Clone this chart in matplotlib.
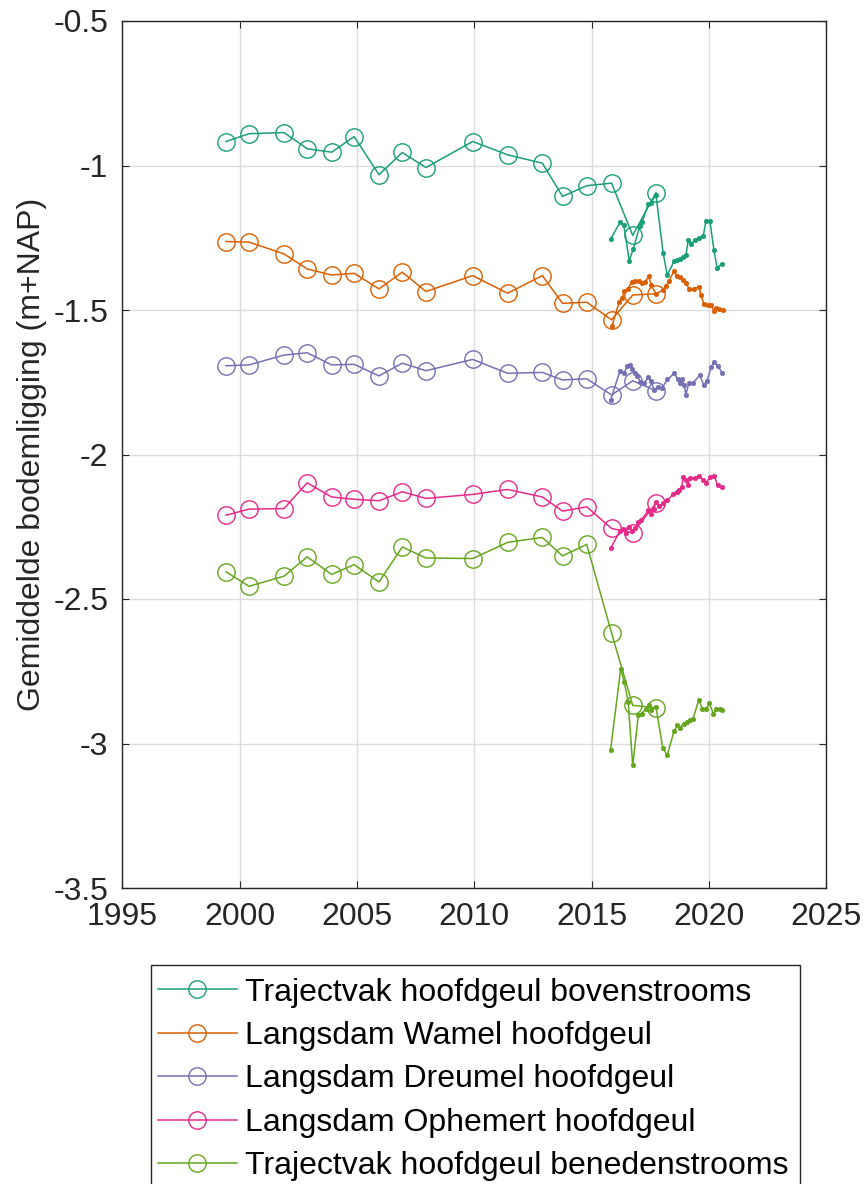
import matplotlib
matplotlib.use("Agg")
import matplotlib.pyplot as plt
from matplotlib.ticker import FuncFormatter
from matplotlib.patches import Rectangle

plt.rcParams['font.family'] = ['Liberation Sans', 'DejaVu Sans']

# ---------------- data ----------------
labels = [
    "Trajectvak hoofdgeul bovenstrooms",
    "Langsdam Wamel hoofdgeul",
    "Langsdam Dreumel hoofdgeul",
    "Langsdam Ophemert hoofdgeul",
    "Trajectvak hoofdgeul benedenstrooms",
]
colors = ["#1b9e77", "#d95f02", "#7570b3", "#e7298a", "#66a61e"]

# survey years (circle series)
years_survey = [1999.42, 2000.40, 2001.89, 2002.88, 2003.92, 2004.88, 2005.94,
                2006.93, 2007.94, 2009.93, 2011.42, 2012.90, 2013.76, 2014.79,
                2015.85, 2016.75, 2017.74]

bov_survey = [-0.917, -0.890, -0.886, -0.942, -0.954, -0.900, -1.032, -0.955,
              -1.007, -0.917, -0.963, -0.992, -1.107, -1.070, -1.061, -1.242, -1.094]
wam_survey = [-1.263, -1.265, -1.306, -1.358, -1.379, -1.373, -1.427, -1.369,
              -1.436, -1.381, -1.442, -1.381, -1.477, -1.473, -1.534, -1.448, -1.444]
dre_survey = [-1.693, -1.690, -1.656, -1.648, -1.690, -1.688, -1.728, -1.684,
              -1.710, -1.671, -1.719, -1.716, -1.742, -1.738, -1.794, -1.745, -1.779]
oph_survey = [-2.210, -2.189, -2.187, -2.098, -2.147, -2.155, -2.160, -2.129,
              -2.152, -2.138, -2.121, -2.147, -2.196, -2.181, -2.256, -2.271, -2.169]
ben_survey = [-2.406, -2.456, -2.421, -2.354, -2.415, -2.381, -2.441, -2.320,
              -2.358, -2.360, -2.304, -2.287, -2.351, -2.311, -2.618, -2.868, -2.876]

# frequent measurements (small dots)
bov_t = [2015.81, 2016.21, 2016.37, 2016.60, 2016.77, 2017.05, 2017.15, 2017.41,
         2017.51, 2017.74, 2018.05, 2018.22, 2018.51, 2018.62, 2018.76, 2018.90,
         2019.02, 2019.12, 2019.23, 2019.40, 2019.57, 2019.76, 2019.87, 2020.04,
         2020.21, 2020.35, 2020.54]
bov_v = [-1.255, -1.196, -1.205, -1.329, -1.290, -1.210, -1.196, -1.134,
         -1.130, -1.101, -1.304, -1.379, -1.332, -1.327, -1.322, -1.315,
         -1.310, -1.257, -1.271, -1.257, -1.252, -1.243, -1.192, -1.192,
         -1.292, -1.356, -1.340]

wam_t = [2015.87, 2016.18, 2016.30, 2016.40, 2016.54, 2016.71, 2016.85, 2017.00,
         2017.14, 2017.28, 2017.43, 2017.54, 2017.74, 2018.05, 2018.17, 2018.31,
         2018.51, 2018.62, 2018.76, 2018.88, 2019.02, 2019.16, 2019.36, 2019.57,
         2019.66, 2019.78, 2019.94, 2020.07, 2020.21, 2020.32, 2020.43, 2020.58]
wam_v = [-1.555, -1.471, -1.457, -1.433, -1.428, -1.402, -1.398, -1.399,
         -1.408, -1.402, -1.384, -1.413, -1.445, -1.430, -1.417, -1.398,
         -1.365, -1.382, -1.387, -1.396, -1.408, -1.427, -1.426, -1.421,
         -1.448, -1.479, -1.482, -1.482, -1.502, -1.494, -1.498, -1.500]

dre_t = [2015.81, 2016.21, 2016.38, 2016.52, 2016.64, 2016.74, 2016.85, 2016.95,
         2017.07, 2017.24, 2017.42, 2017.52, 2017.67, 2017.82, 2017.99, 2018.23,
         2018.53, 2018.66, 2018.78, 2018.86, 2018.95, 2019.01, 2019.14, 2019.31,
         2019.61, 2019.78, 2019.92, 2020.09, 2020.23, 2020.38, 2020.56]
dre_v = [-1.812, -1.710, -1.719, -1.694, -1.690, -1.705, -1.719, -1.728,
         -1.748, -1.752, -1.733, -1.745, -1.777, -1.765, -1.771, -1.740,
         -1.719, -1.740, -1.752, -1.740, -1.760, -1.794, -1.754, -1.754,
         -1.725, -1.760, -1.745, -1.698, -1.679, -1.694, -1.717]

oph_t = [2015.81, 2016.21, 2016.35, 2016.45, 2016.59, 2016.74, 2016.85, 2016.99,
         2017.11, 2017.42, 2017.52, 2017.64, 2017.75, 2017.88, 2018.06, 2018.23,
         2018.48, 2018.63, 2018.74, 2018.84, 2018.91, 2019.02, 2019.10, 2019.19,
         2019.40, 2019.59, 2019.74, 2019.88, 2020.05, 2020.23, 2020.37, 2020.56]
oph_v = [-2.325, -2.264, -2.259, -2.270, -2.250, -2.264, -2.256, -2.233,
         -2.227, -2.193, -2.206, -2.187, -2.164, -2.179, -2.169, -2.158,
         -2.137, -2.129, -2.123, -2.112, -2.077, -2.089, -2.106, -2.080,
         -2.083, -2.075, -2.089, -2.098, -2.077, -2.075, -2.106, -2.114]

ben_t = [2015.81, 2016.24, 2016.39, 2016.56, 2016.75, 2016.99, 2017.13, 2017.30,
         2017.44, 2017.55, 2017.74, 2018.03, 2018.22, 2018.51, 2018.65, 2018.76,
         2018.92, 2019.06, 2019.20, 2019.32, 2019.57, 2019.71, 2019.88, 2020.02,
         2020.19, 2020.31, 2020.45, 2020.56]
ben_v = [-3.021, -2.741, -2.787, -2.857, -3.076, -2.903, -2.897, -2.880,
         -2.868, -2.885, -2.874, -3.014, -3.041, -2.958, -2.937, -2.945,
         -2.932, -2.926, -2.918, -2.915, -2.848, -2.879, -2.879, -2.861,
         -2.898, -2.882, -2.882, -2.885]

xticks = [1995, 2000, 2005, 2010, 2015, 2020, 2025]
yticks = [-3.5, -3, -2.5, -2, -1.5, -1, -0.5]

survey_vals = [bov_survey, wam_survey, dre_survey, oph_survey, ben_survey]
dot_t = [bov_t, wam_t, dre_t, oph_t, ben_t]
dot_v = [bov_v, wam_v, dre_v, oph_v, ben_v]

# ---------------- figure ----------------
W, H = 865, 1184
fig = plt.figure(figsize=(W / 100, H / 100), dpi=100)
ax = fig.add_axes([122.3 / W, 1 - 888 / H, (826.3 - 122.3) / W, (888 - 21) / H])

txt = "#262626"
handles = []
for lab, col, sv, dt, dv in zip(labels, colors, survey_vals, dot_t, dot_v):
    h, = ax.plot(years_survey, sv, color=col, lw=1.1, marker='o', ms=12.5,
                 mfc='none', mec=col, mew=1.0, label=lab, zorder=3)
    handles.append(h)
    ax.plot(dt, dv, color=col, lw=1.1, marker='o', ms=3.2, mfc=col, mec=col,
            mew=0.5, zorder=3)

ax.set_xlim(1995, 2025)
ax.set_ylim(-3.5, -0.5)
ax.set_xticks(xticks)
ax.set_yticks(yticks)
ax.yaxis.set_major_formatter(FuncFormatter(lambda v, p: f"{v:g}"))
ax.xaxis.set_major_formatter(FuncFormatter(lambda v, p: f"{v:g}"))
ax.grid(True, color="#dcdcdc", lw=1.0, zorder=0)
ax.set_axisbelow(True)
for s in ax.spines.values():
    s.set_color(txt)
    s.set_linewidth(1.0)
ax.tick_params(axis='both', direction='in', length=5, width=0.8, colors=txt,
               labelsize=23, top=True, right=True)
ax.tick_params(axis='x', pad=10)
ax.tick_params(axis='y', pad=10)

ax.set_ylabel("Gemiddelde bodemligging (m+NAP)", fontsize=23, color=txt)
ax.yaxis.set_label_coords(-0.107, 0.5)

# legend box (extends beyond the bottom edge, as in the reference)
fig.patches.append(Rectangle((151 / W, -0.02), (800 - 151) / W, (1 - 965 / H) + 0.02,
                             transform=fig.transFigure, fill=True, fc='white',
                             ec=txt, lw=1.0, zorder=1))
leg = fig.legend(handles=handles, loc='upper left',
                 bbox_to_anchor=(158 / W, 1 - 977.5 / H),
                 bbox_transform=fig.transFigure, borderaxespad=0,
                 fontsize=23, frameon=False,
                 handlelength=2.47, handletextpad=0.25,
                 labelspacing=0.42, borderpad=0.0, numpoints=1)
leg.set_zorder(2)
for t in leg.get_texts():
    t.set_color("black")

fig.savefig("out.png", dpi=100)
